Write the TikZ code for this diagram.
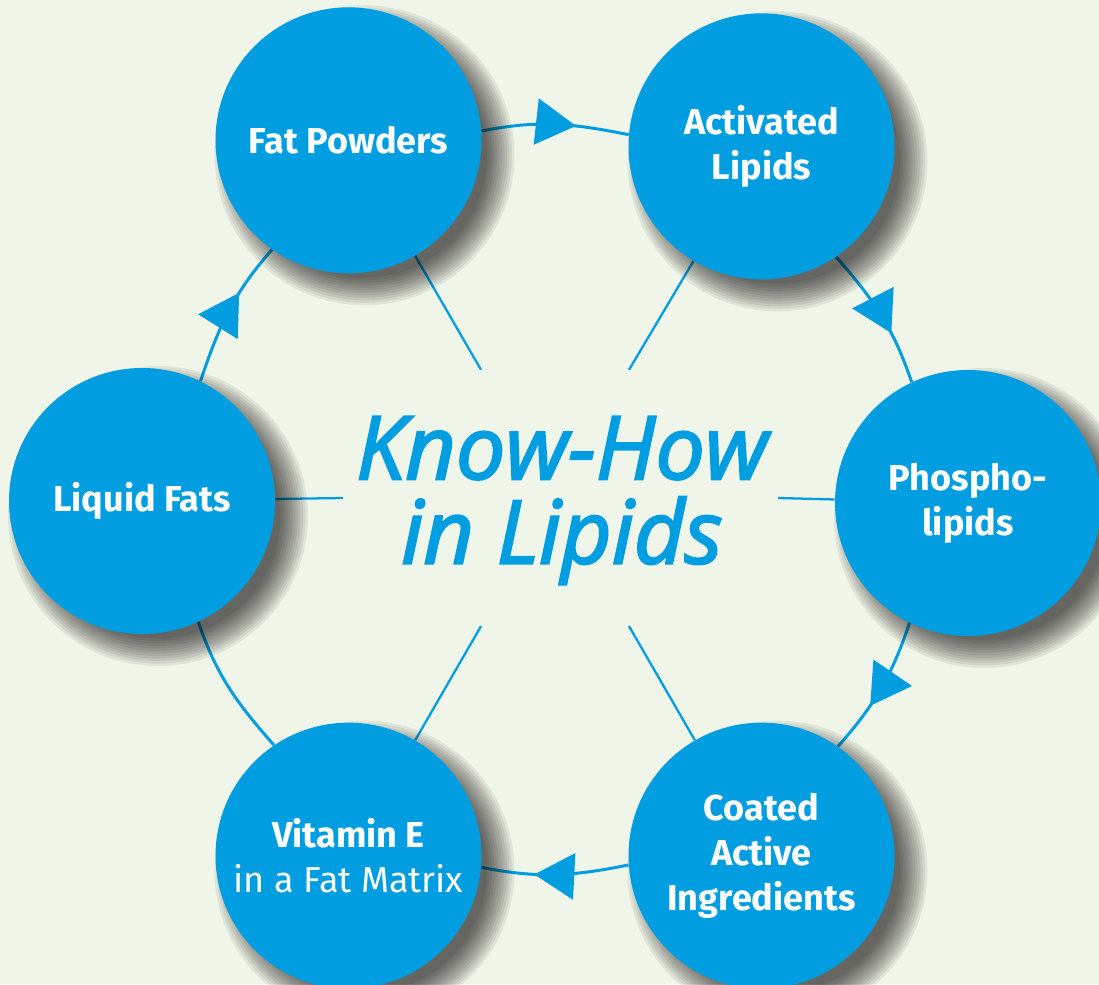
\documentclass[tikz,border=0pt]{standalone}
\usepackage{fontspec}
\setmainfont{Fira Sans}
\newfontfamily\mottofont{Open Sans}[ItalicFeatures={RawFeature={embolden=2.5}}]
\usepackage{tikz}
\usetikzlibrary{arrows.meta, positioning, calc, backgrounds, decorations.markings}
\definecolor{lipidblue}{RGB}{0,158,224}
\definecolor{paleground}{RGB}{239,245,232}
\pgfdeclarelayer{shade}
\pgfsetlayers{background,shade,main}

\begin{document}
\begin{tikzpicture}[
    bubble/.style={circle, fill=lipidblue, minimum size=5.32cm, inner sep=0pt, align=center, text=white, font=\fontsize{20.5}{25.5}\selectfont\bfseries},
    ring/.style={lipidblue, line width=1.7pt},
    ringarrow/.style={ring, postaction={decorate}, decoration={markings, mark=at position 0.64 with {\arrow{Triangle[length=0.8cm, width=0.92cm]}}}},
    spoke/.style={lipidblue, line width=1.3pt},
    title/.style={text=lipidblue, align=center, font=\mottofont\fontsize{50}{48}\selectfont\itshape}
]

\useasboundingbox (0,0) rectangle (21.98,19.68);
\coordinate (hub) at (11.10,9.72);

\node[bubble] (fat) at ($(hub)+(120:8.26)$) {Fat Powders};
\node[bubble] (act) at ($(hub)+(60:8.26)+(0,-0.12)$) {Activated\\Lipids};
\node[bubble] (pho) at ($(hub)+(0:8.26)+(0,-0.1)$) {Phospho-\\lipids};
\node[bubble] (coa) at ($(hub)+(-60:8.26)$) {Coated\\Active\\Ingredients};
\node[bubble] (vit) at ($(hub)+(-120:8.26)$) {Vitamin E\\{\mdseries in a Fat Matrix}};
\node[bubble] (liq) at ($(hub)+(180:8.26)+(0,-0.06)$) {Liquid Fats};

\node[title] (motto) at ($(hub)+(0.14,-0.05)$) {Know-How\\in Lipids};

\begin{pgfonlayer}{shade}
\foreach \n in {fat,act,pho,coa,vit,liq}
  \foreach \k in {0,...,11}
    \fill[black, opacity=0.065] ($(\n)+(0.32,-0.3)$) circle ({2.66+0.34-0.05*\k});
\end{pgfonlayer}

\begin{pgfonlayer}{background}
\fill[paleground] (0,0) rectangle (21.98,19.68);

\foreach \n/\ang/\r in {fat/120/2.96, act/60/2.96, pho/0/4.46, coa/-60/2.96, vit/-120/2.96, liq/180/4.24} {
  \coordinate (\n-in) at ($(hub)+(\ang:\r)$);
  \draw[spoke] (\n-in) -- (\n);
}

\foreach \a/\b/\ang/\kind [evaluate=\ang as \sa using {mod(\ang+604.29,360)},
                           evaluate=\ang as \ea using {mod(\ang+415.71,360)},
                           evaluate=\ang as \out using \ang-108.63,
                           evaluate=\ang as \in using \ang+48.63]
    in {fat/act/120/ringarrow, act/pho/60/ringarrow, pho/coa/0/ringarrow,
        coa/vit/-60/ringarrow, vit/liq/-120/ring, liq/fat/180/ringarrow}
  \draw[\kind] (\a.\sa) to[out=\out, in=\in] (\b.\ea);
\end{pgfonlayer}

\end{tikzpicture}
\end{document}
